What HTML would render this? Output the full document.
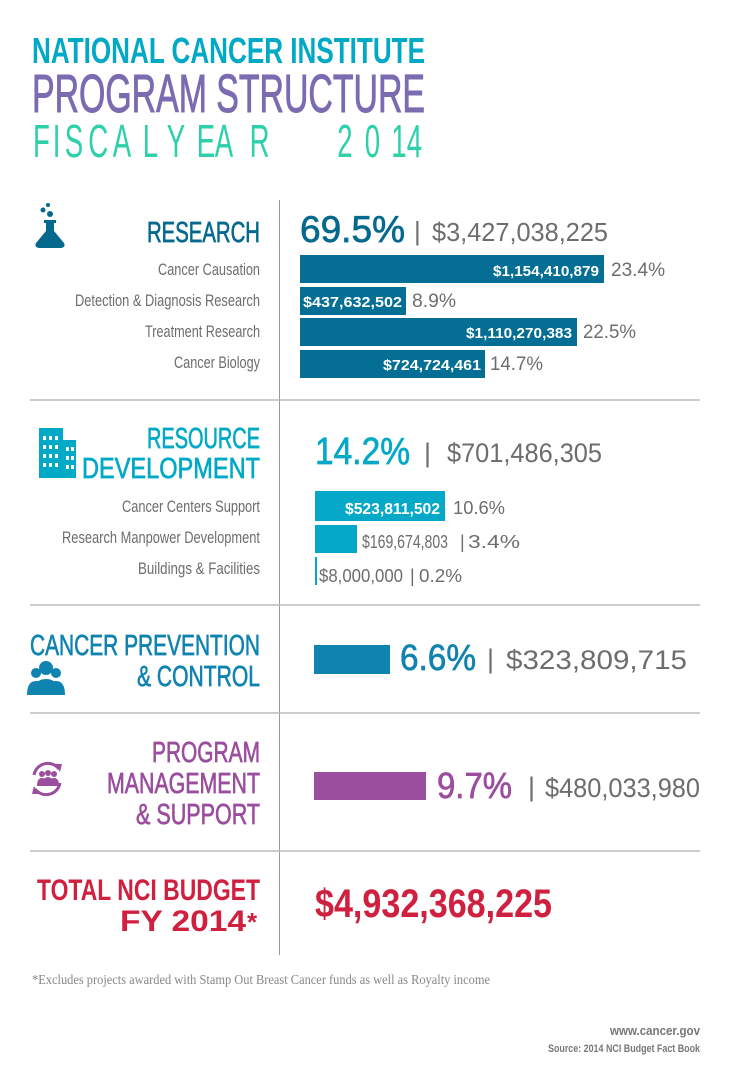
<!DOCTYPE html>
<html><head><meta charset="utf-8"><style>
html,body{margin:0;padding:0;background:#fff}
svg{display:block}
text{font-family:"Liberation Sans Narrow","Liberation Sans",sans-serif}
.g{fill:#6d6d6d}
.w{fill:#fff;font-weight:bold}
.h{stroke-width:0.7}
</style></head><body>
<svg width="735" height="1089" viewBox="0 0 735 1089" xmlns="http://www.w3.org/2000/svg">
<text x="32" y="63" font-size="36" font-weight="bold" fill="#00a9c6" textLength="393" lengthAdjust="spacingAndGlyphs">NATIONAL CANCER INSTITUTE</text>
<text x="32" y="112" font-size="54" fill="#7b6bb0" stroke="#7b6bb0" stroke-width="1" textLength="393" lengthAdjust="spacingAndGlyphs">PROGRAM STRUCTURE</text>
<g font-size="46" fill="#2dd0a8" transform="scale(0.6,1)" style="font-family:'Liberation Sans',sans-serif">
<text x="55" y="157">F</text><text x="88" y="157">I</text><text x="108" y="157">S</text><text x="147" y="157">C</text>
<text x="188" y="157">A</text><text x="238" y="157">L</text><text x="278" y="157">Y</text><text x="328" y="157">E</text>
<text x="358" y="157">A</text><text x="416" y="157">R</text><text x="562" y="157">2</text><text x="608" y="157">0</text>
<text x="652" y="157">1</text><text x="678" y="157">4</text>
</g>

<line x1="279.5" y1="200" x2="279.5" y2="955" stroke="#999" stroke-width="1"/>
<line x1="30" y1="400" x2="700" y2="400" stroke="#bbb" stroke-width="1.5"/>
<line x1="30" y1="605" x2="700" y2="605" stroke="#bbb" stroke-width="1.5"/>
<line x1="30" y1="713" x2="700" y2="713" stroke="#bbb" stroke-width="1.5"/>
<line x1="30" y1="851" x2="700" y2="851" stroke="#bbb" stroke-width="1.5"/>

<!-- flask -->
<g fill="#05698e"><circle cx="48" cy="205" r="2"/><circle cx="43" cy="210" r="2.5"/><circle cx="50" cy="214" r="3"/>
<path d="M44 220 h12 v3 h-2 v8 l10 12 q2 4 -3 5 h-22 q-5 -1 -3 -5 l10 -12 v-8 h-2z"/></g>
<text x="260" y="242" font-size="29" fill="#05698e" stroke="#05698e" class="h" text-anchor="end" textLength="113" lengthAdjust="spacingAndGlyphs">RESEARCH</text>
<text x="300" y="242" font-size="37" fill="#05698e" stroke="#05698e" class="h" textLength="105" lengthAdjust="spacingAndGlyphs">69.5%</text>
<text x="414" y="240" font-size="26" class="g">|</text>
<text x="432" y="241" font-size="26" class="g" textLength="176" lengthAdjust="spacingAndGlyphs">$3,427,038,225</text>

<g class="g" font-size="17" text-anchor="end">
<text x="260" y="275" textLength="102" lengthAdjust="spacingAndGlyphs">Cancer Causation</text>
<text x="260" y="306" textLength="185" lengthAdjust="spacingAndGlyphs">Detection &amp; Diagnosis Research</text>
<text x="260" y="337" textLength="115" lengthAdjust="spacingAndGlyphs">Treatment Research</text>
<text x="260" y="368" textLength="86" lengthAdjust="spacingAndGlyphs">Cancer Biology</text>
</g>
<g fill="#046e94">
<rect x="300" y="255" width="304" height="28"/>
<rect x="300" y="287" width="106" height="28"/>
<rect x="300" y="318" width="277" height="28"/>
<rect x="300" y="350" width="185" height="28"/>
</g>
<g font-size="15" class="w">
<text x="493" y="276" textLength="106" lengthAdjust="spacingAndGlyphs">$1,154,410,879</text>
<text x="303" y="307" textLength="99" lengthAdjust="spacingAndGlyphs">$437,632,502</text>
<text x="466" y="338" textLength="106" lengthAdjust="spacingAndGlyphs">$1,110,270,383</text>
<text x="383" y="370" textLength="98" lengthAdjust="spacingAndGlyphs">$724,724,461</text>
</g>
<g font-size="19" class="g">
<text x="611" y="276" textLength="54" lengthAdjust="spacingAndGlyphs">23.4%</text>
<text x="412" y="307" textLength="44" lengthAdjust="spacingAndGlyphs">8.9%</text>
<text x="583" y="338" textLength="53" lengthAdjust="spacingAndGlyphs">22.5%</text>
<text x="490" y="370" textLength="53" lengthAdjust="spacingAndGlyphs">14.7%</text>
</g>

<!-- building -->
<g fill="#00a9c6"><rect x="39" y="428" width="24" height="50"/><rect x="63" y="440" width="13" height="38"/>
<g fill="#fff"><rect x="43" y="436" width="3" height="4"/><rect x="49" y="436" width="3" height="4"/><rect x="55" y="436" width="3" height="4"/>
<rect x="43" y="445" width="3" height="4"/><rect x="49" y="445" width="3" height="4"/><rect x="55" y="445" width="3" height="4"/><rect x="66" y="447" width="3" height="4"/><rect x="71" y="447" width="3" height="4"/>
<rect x="43" y="454" width="3" height="4"/><rect x="49" y="454" width="3" height="4"/><rect x="55" y="454" width="3" height="4"/><rect x="66" y="456" width="3" height="4"/><rect x="71" y="456" width="3" height="4"/>
<rect x="43" y="463" width="3" height="4"/><rect x="49" y="463" width="3" height="4"/><rect x="55" y="463" width="3" height="4"/><rect x="66" y="465" width="3" height="4"/><rect x="71" y="465" width="3" height="4"/></g></g>
<g fill="#00a9c6" stroke="#00a9c6" class="h" font-size="29" text-anchor="end">
<text x="260" y="448" textLength="113" lengthAdjust="spacingAndGlyphs">RESOURCE</text>
<text x="260" y="478" textLength="178" lengthAdjust="spacingAndGlyphs">DEVELOPMENT</text>
</g>
<text x="315" y="464" font-size="38" fill="#05a9c7" stroke="#05a9c7" class="h" textLength="95" lengthAdjust="spacingAndGlyphs">14.2%</text>
<text x="424" y="462" font-size="27" class="g">|</text>
<text x="447" y="462" font-size="27" class="g" textLength="155" lengthAdjust="spacingAndGlyphs">$701,486,305</text>
<g class="g" font-size="17" text-anchor="end">
<text x="260" y="512" textLength="138" lengthAdjust="spacingAndGlyphs">Cancer Centers Support</text>
<text x="260" y="543" textLength="198" lengthAdjust="spacingAndGlyphs">Research Manpower Development</text>
<text x="260" y="574" textLength="122" lengthAdjust="spacingAndGlyphs">Buildings &amp; Facilities</text>
</g>
<g fill="#05a9c7">
<rect x="315" y="491" width="130" height="30"/>
<rect x="315" y="525" width="42" height="28"/>
<rect x="315" y="557" width="2" height="28"/>
</g>
<text x="345" y="514" font-size="16" class="w" textLength="95" lengthAdjust="spacingAndGlyphs">$523,811,502</text>
<g class="g" font-size="18">
<text x="453" y="514" textLength="52" lengthAdjust="spacingAndGlyphs">10.6%</text>
<text x="362" y="548" textLength="86" lengthAdjust="spacingAndGlyphs">$169,674,803</text>
<text x="460" y="548">|</text>
<text x="468" y="548" textLength="52" lengthAdjust="spacingAndGlyphs">3.4%</text>
<text x="319" y="582" textLength="84" lengthAdjust="spacingAndGlyphs">$8,000,000</text>
<text x="410" y="582">|</text>
<text x="419" y="582" textLength="43" lengthAdjust="spacingAndGlyphs">0.2%</text>
</g>

<!-- people -->
<g fill="#1183b0"><circle cx="46" cy="668" r="7"/><path d="M33 695 q0 -16 13 -16 q13 0 13 16z"/>
<circle cx="36" cy="673" r="5"/><path d="M27 695 q0 -14 9 -14 q6 0 8 4 l-6 10z"/>
<circle cx="56" cy="673" r="5"/><path d="M65 695 q0 -14 -9 -14 q-6 0 -8 4 l6 10z"/></g>
<g fill="#1183b0" stroke="#1183b0" class="h" font-size="29" text-anchor="end">
<text x="260" y="655" textLength="230" lengthAdjust="spacingAndGlyphs">CANCER PREVENTION</text>
<text x="260" y="686" textLength="123" lengthAdjust="spacingAndGlyphs">&amp; CONTROL</text>
</g>
<rect x="314" y="645" width="76" height="29" fill="#1183b0"/>
<text x="400" y="670" font-size="36" fill="#1183b0" stroke="#1183b0" class="h" textLength="76" lengthAdjust="spacingAndGlyphs">6.6%</text>
<text x="487" y="668" font-size="27" class="g">|</text>
<text x="506" y="669" font-size="27" class="g" textLength="181" lengthAdjust="spacingAndGlyphs">$323,809,715</text>

<!-- circular arrows -->
<g fill="none" stroke="#9b4d9e" stroke-width="3"><path d="M34 775 a14 14 0 0 1 25 -6"/><path d="M60 783 a14 14 0 0 1 -25 6"/></g>
<g fill="#9b4d9e"><path d="M55 764 l7 0 l-2 8z"/><path d="M39 794 l-7 0 l2 -8z"/>
<circle cx="42" cy="774" r="3"/><circle cx="48" cy="773" r="3"/><circle cx="54" cy="774" r="3"/>
<path d="M37 786 q0 -8 5 -8 q6 0 6 8z M43 786 q0 -9 5 -9 q5 0 5 9z M48 786 q0 -8 6 -8 q5 0 5 8z"/></g>
<g fill="#9b4d9e" stroke="#9b4d9e" class="h" font-size="29" text-anchor="end">
<text x="260" y="762" textLength="108" lengthAdjust="spacingAndGlyphs">PROGRAM</text>
<text x="260" y="793" textLength="153" lengthAdjust="spacingAndGlyphs">MANAGEMENT</text>
<text x="260" y="824" textLength="124" lengthAdjust="spacingAndGlyphs">&amp; SUPPORT</text>
</g>
<rect x="314" y="772" width="112" height="28" fill="#9b4d9e"/>
<text x="437" y="798" font-size="36" fill="#9b4d9e" stroke="#9b4d9e" class="h" textLength="75" lengthAdjust="spacingAndGlyphs">9.7%</text>
<text x="528" y="796" font-size="27" class="g">|</text>
<text x="545" y="797" font-size="27" class="g" textLength="155" lengthAdjust="spacingAndGlyphs">$480,033,980</text>

<g fill="#d0203f" font-size="30" font-weight="bold">
<text x="37" y="900" textLength="223" lengthAdjust="spacingAndGlyphs">TOTAL NCI BUDGET</text>
<text x="120" y="931" textLength="126" lengthAdjust="spacingAndGlyphs">FY 2014</text>
<text x="247" y="931" font-size="26">*</text>
</g>
<text x="315" y="917" font-size="40" fill="#d0203f" font-weight="bold" textLength="237" lengthAdjust="spacingAndGlyphs">$4,932,368,225</text>

<text x="32" y="984" font-size="14" fill="#888" style="font-family:'Liberation Serif',serif" textLength="458" lengthAdjust="spacingAndGlyphs">*Excludes projects awarded with Stamp Out Breast Cancer funds as well as Royalty income</text>
<g fill="#777" text-anchor="end" font-weight="bold">
<text x="700" y="1035" font-size="13" textLength="90" lengthAdjust="spacingAndGlyphs">www.cancer.gov</text>
<text x="700" y="1052" font-size="11" textLength="152" lengthAdjust="spacingAndGlyphs">Source: 2014 NCI Budget Fact Book</text>
</g>
</svg>
</body></html>
